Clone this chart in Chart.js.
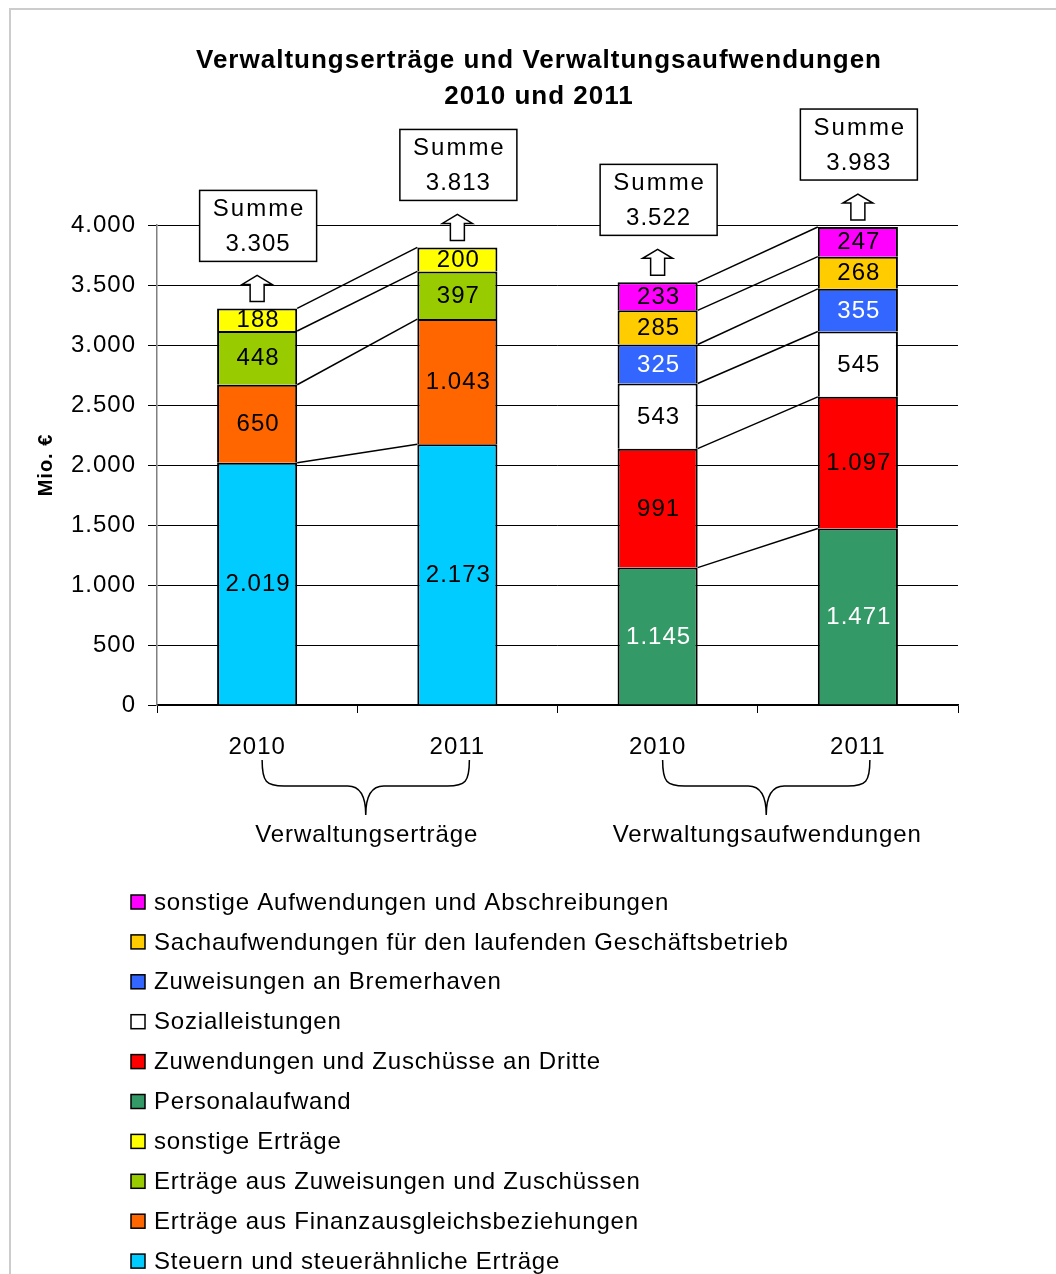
<!DOCTYPE html>
<html lang="de">
<head>
<meta charset="UTF-8">
<title>Verwaltungserträge und Verwaltungsaufwendungen 2010 und 2011</title>
<script src="https://cdn.jsdelivr.net/npm/chart.js"></script>
<style>
    body { margin: 0; background: #fff; }
    #wrap { width: 1056px; height: 1274px; }
</style>
</head>
<body>
<div id="wrap"><canvas id="chart" width="1056" height="1274"></canvas></div>
<script>
    // Daten (Mio. €)
    const categories = ['2010', '2011', '2010', '2011'];
    const groupLabels = ['Verwaltungserträge', 'Verwaltungsaufwendungen'];
    const groupPairs = [[0, 1], [2, 3]];
    const yTickValues = [0, 500, 1000, 1500, 2000, 2500, 3000, 3500, 4000];

    // Serien von unten nach oben gestapelt
    const steuern = [2019, 2173, null, null];
    const finanzausgleich = [650, 1043, null, null];
    const zuweisungenZuschuesse = [448, 397, null, null];
    const sonstigeErtraege = [188, 200, null, null];
    const personalaufwand = [null, null, 1145, 1471];
    const zuwendungenDritte = [null, null, 991, 1097];
    const sozialleistungen = [null, null, 543, 545];
    const bremerhaven = [null, null, 325, 355];
    const sachaufwendungen = [null, null, 285, 268];
    const sonstigeAufwendungen = [null, null, 233, 247];

    const summen = [3305, 3813, 3522, 3983];

    const FONT = "'Liberation Sans', Arial, sans-serif";

    function fmt(v) {
        return String(v).replace(/\B(?=(\d{3})+(?!\d))/g, '.');
    }

    function ds(label, data, color, textColor) {
        return {
            label: label,
            data: data,
            backgroundColor: color,
            borderColor: '#000',
            borderWidth: 2,
            textColor: textColor || '#000'
        };
    }

    const datasets = [
        ds('Steuern und steuerähnliche Erträge', steuern, '#00CCFF'),
        ds('Erträge aus Finanzausgleichsbeziehungen', finanzausgleich, '#FF6600'),
        ds('Erträge aus Zuweisungen und Zuschüssen', zuweisungenZuschuesse, '#99CC00'),
        ds('sonstige Erträge', sonstigeErtraege, '#FFFF00'),
        ds('Personalaufwand', personalaufwand, '#339966', '#fff'),
        ds('Zuwendungen und Zuschüsse an Dritte', zuwendungenDritte, '#FF0000'),
        ds('Sozialleistungen', sozialleistungen, '#FFFFFF'),
        ds('Zuweisungen an Bremerhaven', bremerhaven, '#3366FF', '#fff'),
        ds('Sachaufwendungen für den laufenden Geschäftsbetrieb', sachaufwendungen, '#FFCC00'),
        ds('sonstige Aufwendungen und Abschreibungen', sonstigeAufwendungen, '#FF00FF')
    ];

    function barEl(chart, idx) {
        for (let d = 0; d < chart.data.datasets.length; d++) {
            if (chart.data.datasets[d].data[idx] != null) {
                return chart.getDatasetMeta(d).data[idx];
            }
        }
        return null;
    }

    const overlay = {
        id: 'overlay',
        beforeDraw(chart) {
            const ctx = chart.ctx;
            ctx.save();
            // Rahmen
            ctx.strokeStyle = '#cccccc';
            ctx.lineWidth = 2;
            ctx.beginPath();
            ctx.moveTo(10, 1274);
            ctx.lineTo(10, 9);
            ctx.lineTo(1056, 9);
            ctx.stroke();
            // Titel
            ctx.fillStyle = '#000';
            ctx.font = 'bold 26px ' + FONT;
            ctx.letterSpacing = '1px';
            ctx.textAlign = 'center';
            ctx.textBaseline = 'middle';
            ctx.fillText('Verwaltungserträge und Verwaltungsaufwendungen', 539, 61);
            ctx.fillText('2010 und 2011', 539, 97);
            ctx.restore();
            // etwas weitere Laufweite für alle Achsentexte
            ctx.letterSpacing = '1px';
        },
        afterDatasetsDraw(chart) {
            const ctx = chart.ctx;
            const y = chart.scales.y;
            ctx.save();
            // Verbindungslinien
            ctx.strokeStyle = '#000';
            ctx.lineWidth = 1.5;
            groupPairs.forEach(([a, b]) => {
                const ea = barEl(chart, a), eb = barEl(chart, b);
                let cumA = 0, cumB = 0;
                chart.data.datasets.forEach(dset => {
                    if (dset.data[a] == null) return;
                    cumA += dset.data[a];
                    cumB += dset.data[b];
                    ctx.beginPath();
                    ctx.moveTo(ea.x + ea.width / 2, y.getPixelForValue(cumA));
                    ctx.lineTo(eb.x - eb.width / 2, y.getPixelForValue(cumB));
                    ctx.stroke();
                });
            });
            // Werte in den Segmenten
            ctx.font = '24px ' + FONT;
            ctx.letterSpacing = '1px';
            ctx.textAlign = 'center';
            ctx.textBaseline = 'middle';
            chart.data.datasets.forEach((dset, d) => {
                chart.getDatasetMeta(d).data.forEach((el, i) => {
                    const v = dset.data[i];
                    if (v == null) return;
                    ctx.fillStyle = dset.textColor;
                    ctx.fillText(fmt(v), el.x + 1, (el.y + el.base) / 2 + 1);
                });
            });
            ctx.restore();
        },
        afterDraw(chart) {
            const ctx = chart.ctx;
            const y = chart.scales.y;
            const x = chart.scales.x;
            ctx.save();
            ctx.strokeStyle = '#000';
            ctx.lineWidth = 1.5;
            ctx.textAlign = 'center';
            ctx.textBaseline = 'middle';

            // Pfeile und Summen-Kästen
            summen.forEach((s, i) => {
                const cx = x.getPixelForValue(i);
                const top = y.getPixelForValue(s);
                const ab = top - 7, at = top - 33;
                ctx.beginPath();
                ctx.moveTo(cx - 7, ab);
                ctx.lineTo(cx - 7, at + 9);
                ctx.lineTo(cx - 15, at + 9);
                ctx.lineTo(cx, at);
                ctx.lineTo(cx + 15, at + 9);
                ctx.lineTo(cx + 7, at + 9);
                ctx.lineTo(cx + 7, ab);
                ctx.closePath();
                ctx.fillStyle = '#fff';
                ctx.fill();
                ctx.stroke();

                const bw = 117, bh = 71;
                const bcx = cx + 1;
                const bx = bcx - bw / 2, byb = at - 14;
                ctx.fillStyle = '#fff';
                ctx.fillRect(bx, byb - bh, bw, bh);
                ctx.strokeRect(bx, byb - bh, bw, bh);
                ctx.fillStyle = '#000';
                ctx.font = '24px ' + FONT;
                ctx.letterSpacing = '2px';
                ctx.fillText('Summe', bcx + 1, byb - bh + 19);
                ctx.letterSpacing = '1px';
                ctx.fillText(fmt(s), bcx, byb - bh + 54);
            });

            // Klammern und Gruppenbeschriftung
            groupPairs.forEach(([a, b], g) => {
                const L = x.getPixelForValue(a) + 5;
                const R = x.getPixelForValue(b) + 12;
                const M = (L + R) / 2;
                const t = 760, h = 786, p = 815;
                ctx.beginPath();
                ctx.moveTo(L, t);
                ctx.bezierCurveTo(L, h - 4, L + 4, h, L + 22, h);
                ctx.lineTo(M - 18, h);
                ctx.bezierCurveTo(M - 6, h, M, h + 9, M, p);
                ctx.bezierCurveTo(M, h + 9, M + 6, h, M + 18, h);
                ctx.lineTo(R - 22, h);
                ctx.bezierCurveTo(R - 4, h, R, h - 4, R, t);
                ctx.stroke();
                ctx.fillStyle = '#000';
                ctx.font = '24px ' + FONT;
                ctx.letterSpacing = '0.9px';
                ctx.fillText(groupLabels[g], M + 1, 835);
            });

            // Legende (oberste Serie zuerst)
            ctx.font = '24px ' + FONT;
            ctx.letterSpacing = '0.8px';
            ctx.textAlign = 'left';
            const items = chart.data.datasets.slice().reverse();
            items.forEach((dset, k) => {
                const cy = 902 + k * 39.9;
                ctx.fillStyle = dset.backgroundColor;
                ctx.fillRect(131, cy - 7, 14, 14);
                ctx.lineWidth = 1.5;
                ctx.strokeRect(131, cy - 7, 14, 14);
                ctx.fillStyle = '#000';
                ctx.fillText(dset.label, 154, cy + 1);
            });
            ctx.restore();
        }
    };

    new Chart(document.getElementById('chart'), {
        type: 'bar',
        data: { labels: categories, datasets: datasets },
        options: {
            responsive: false,
            animation: false,
            datasets: { bar: { categoryPercentage: 1, barPercentage: 0.4 } },
            layout: { padding: { left: 10, right: 98, top: 225, bottom: 0 } },
            plugins: {
                legend: { display: false },
                tooltip: { enabled: false },
                title: { display: false }
            },
            scales: {
                x: {
                    stacked: true,
                    grid: { offset: true, drawOnChartArea: false, color: '#000', tickLength: 8 },
                    border: { color: '#000', width: 1.5 },
                    ticks: { font: { family: FONT, size: 24 }, color: '#000', padding: 20 },
                    afterFit: s => { s.height = 1274 - 705; }
                },
                y: {
                    stacked: true,
                    min: 0,
                    max: 4000,
                    afterBuildTicks: s => { s.ticks = yTickValues.map(v => ({ value: v })); },
                    ticks: {
                        font: { family: FONT, size: 24 },
                        color: '#000',
                        padding: 12,
                        callback: v => fmt(v)
                    },
                    grid: { color: '#000', lineWidth: 1, tickLength: 9 },
                    border: { color: '#808080', width: 1.5 },
                    title: {
                        display: true,
                        text: 'Mio. €',
                        color: '#000',
                        font: { family: FONT, size: 20, weight: 'bold' },
                        padding: { top: 24, bottom: 0 }
                    },
                    afterFit: s => { s.width = 147; }
                }
            }
        },
        plugins: [overlay]
    });
</script>
</body>
</html>
